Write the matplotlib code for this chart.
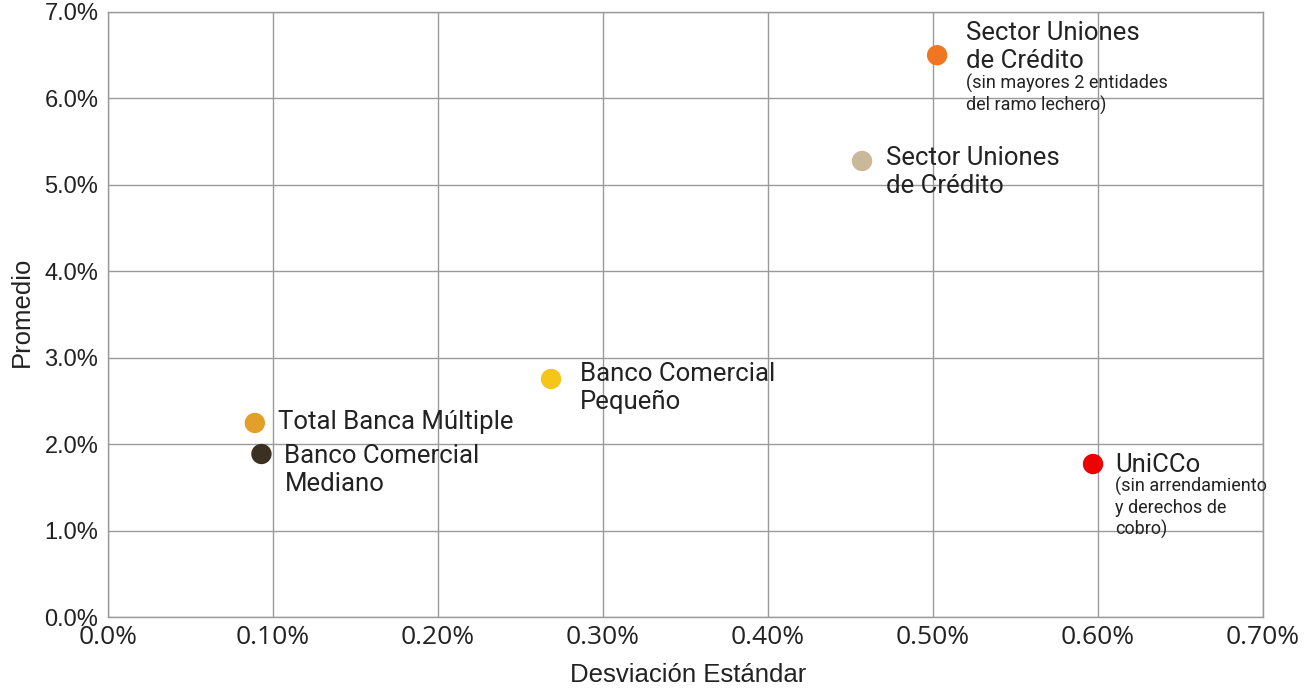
import matplotlib
matplotlib.use("Agg")
import matplotlib.pyplot as plt
from matplotlib.ticker import FuncFormatter

# ---- data ----
names = ["Total Banca Múltiple", "Banco Comercial\nMediano", "Banco Comercial\nPequeño",
         "Sector Uniones\nde Crédito", "Sector Uniones\nde Crédito", "UniCCo"]
notes = ["", "", "", "", "(sin mayores 2 entidades\ndel ramo lechero)",
         "(sin arrendamiento\ny derechos de\ncobro)"]
desv = [0.089, 0.093, 0.2685, 0.457, 0.5025, 0.597]   # %
prom = [2.245, 1.886, 2.754, 5.276, 6.50, 1.77]        # %
colors = ["#E2A02A", "#3A3122", "#F5C518", "#C9B999", "#F07622", "#EE0000"]
x_ticks = [0.0, 0.1, 0.2, 0.3, 0.4, 0.5, 0.6, 0.7]
y_ticks = [0, 1, 2, 3, 4, 5, 6, 7]

# label offsets in pixels (dx, dy main, dy note)
offsets = [(23, 1, 0), (23, -16, 0), (29, -9, 0), (24, -11, 0), (29, 8, -39), (22, -1, -44)]

W, H = 1309, 693
fig = plt.figure(figsize=(W / 100, H / 100), dpi=100)
ax = fig.add_axes([108 / W, 1 - 617 / H, (1263 - 108) / W, (617 - 12) / H])

grid_c = "#9a9a9a"
ax.set_xlim(0, 0.7)
ax.set_ylim(0, 7)
ax.set_xticks(x_ticks)
ax.set_yticks(y_ticks)
ax.xaxis.set_major_formatter(FuncFormatter(lambda v, p: "0.0%" if v == 0 else f"{v:.2f}%"))
ax.yaxis.set_major_formatter(FuncFormatter(lambda v, p: f"{v:.1f}%"))
ax.grid(True, color=grid_c, linewidth=1)
ax.set_axisbelow(True)
for s in ax.spines.values():
    s.set_color(grid_c)
    s.set_linewidth(1)
ax.tick_params(length=0, colors="#222222")
for lab in ax.get_yticklabels():
    lab.set_fontfamily("Liberation Sans")
    lab.set_fontsize(17)
for lab in ax.get_xticklabels():
    lab.set_fontfamily("Open Sans")
    lab.set_fontsize(19)
ax.tick_params(axis="y", pad=7)
ax.tick_params(axis="x", pad=6)

ax.scatter(desv, prom, s=215, c=colors, zorder=3, linewidths=0)

k = 0.72
for i in range(len(names)):
    dx, dy, dyn = offsets[i]
    ax.annotate(names[i], (desv[i], prom[i]), xytext=(dx * k, dy * k), textcoords="offset points",
                ha="left", va="center", fontsize=18.5, family="Roboto", fontweight="normal",
                color="#222222", linespacing=1.22, zorder=4)
    if notes[i]:
        ax.annotate(notes[i], (desv[i], prom[i]), xytext=(dx * k, dyn * k), textcoords="offset points",
                    ha="left", va="center", fontsize=13, family="Roboto", fontweight="normal",
                    color="#222222", linespacing=1.2, zorder=4)

fig.text(22 / W, 1 - 312 / H, "Promedio", rotation=90, ha="center", va="center",
         fontsize=18.5, family="Liberation Sans", color="#222222")
fig.text(688 / W, 1 - 675 / H, "Desviación Estándar", ha="center", va="center",
         fontsize=18.5, family="Liberation Sans", color="#222222")

fig.savefig("out.png", dpi=100)
